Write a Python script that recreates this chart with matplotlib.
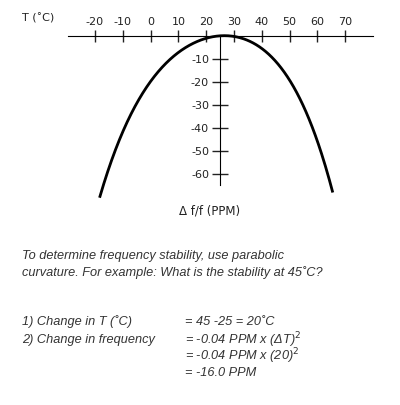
import matplotlib
matplotlib.use('Agg')
import matplotlib.pyplot as plt
import numpy as np

plt.rcParams['axes.unicode_minus'] = False

# curve points
temp = [-18.2, -14, -10, -6, -2.6, 3, 9.5, 15, 20, 25, 30, 35, 40, 46, 51.6, 56, 61, 65.4]
ppm = [-68.3, -55, -44, -33, -23, -14, -7, -3, -0.8, 0, -0.7, -2.8, -6.5, -13,
       -21, -32, -50, -68.3]
xticks = [-20, -10, 0, 10, 20, 30, 40, 50, 60, 70]
yticks = [-10, -20, -30, -40, -50, -60]

W, H = 400, 405
fig = plt.figure(figsize=(W / 100, H / 100), dpi=100)
ax = fig.add_axes([68 / W, 1 - 193 / H, 305 / W, 157 / H])
ax.set_xlim(-29.7, 80)
ax.set_ylim(-68.5, 0)

# smooth curve fitted through the read points
coef = np.polyfit(temp, ppm, 4)
tt = np.linspace(min(temp), max(temp), 300)
ax.plot(tt, np.polyval(coef, tt), color='black', lw=2, clip_on=False)

for s in ['bottom', 'right']:
    ax.spines[s].set_visible(False)
ax.spines['top'].set_position(('data', 0))
ax.spines['left'].set_position(('data', 25))
ax.spines['left'].set_bounds(-65, 0)
ax.xaxis.set_ticks_position('top')
ax.set_xticks(xticks)
ax.set_yticks(yticks)
ax.tick_params(axis='x', direction='inout', length=9, width=1, pad=2,
               labelsize=8, colors='#222')
ax.tick_params(axis='y', direction='inout', length=12, width=1, pad=2,
               labelsize=8, colors='#222')
ax.patch.set_alpha(0)

fig.text(22 / W, 1 - 18 / H, 'T (˚C)', fontsize=8, color='#222', va='center')
fig.text(210 / W, 1 - 211 / H, 'Δ f/f (PPM)', fontsize=8.5, color='#222',
         ha='center', va='center')

kw = dict(fontsize=9.2, style='italic', family=['Liberation Sans', 'DejaVu Sans'],
          color='#333', va='center')
fig.text(22 / W, 1 - 256 / H, 'To determine frequency stability, use parabolic', **kw)
fig.text(22 / W, 1 - 273 / H, 'curvature. For example: What is the stability at 45˚C?', **kw)
fig.text(22 / W, 1 - 322 / H, '1) Change in T (˚C)', **kw)
fig.text(22 / W, 1 - 340 / H, '2) Change in frequency', **kw)
fig.text(185 / W, 1 - 322 / H, '= 45 -25 = 20˚C', **kw)
fig.text(185 / W, 1 - 340 / H, '= -0.04 PPM x (ΔT)$^2$', **kw)
fig.text(185 / W, 1 - 356 / H, '= -0.04 PPM x (20)$^2$', **kw)
fig.text(185 / W, 1 - 373 / H, '= -16.0 PPM', **kw)

fig.savefig('out.png', dpi=100)
